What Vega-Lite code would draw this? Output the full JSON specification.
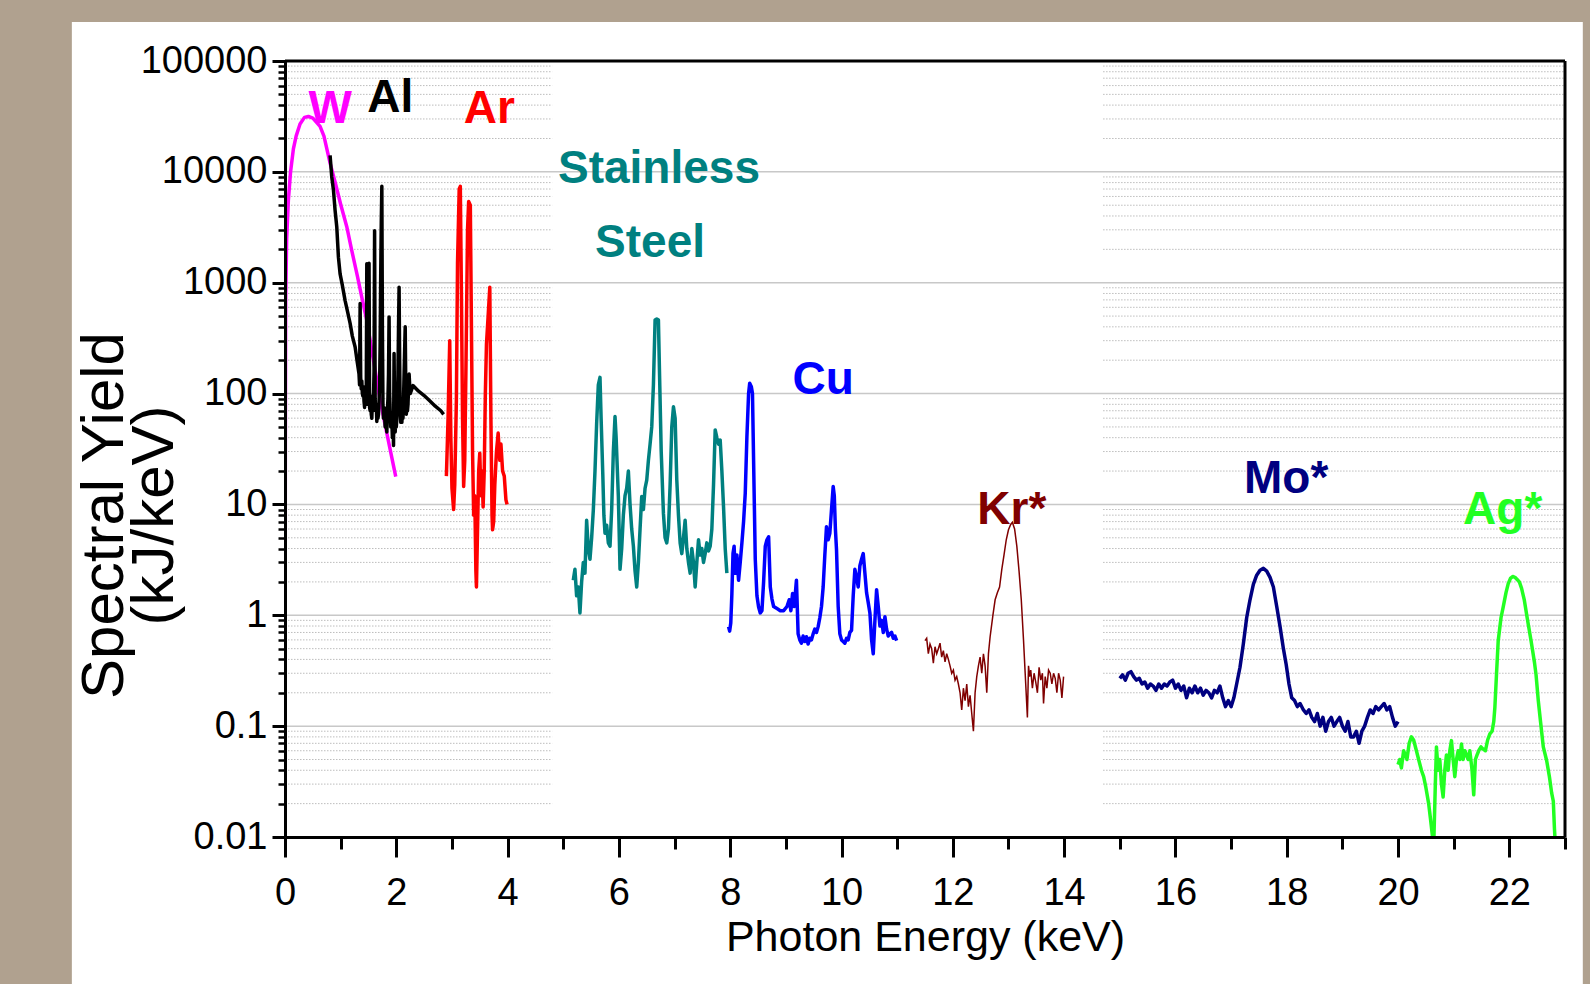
{
"$schema": "https://vega.github.io/schema/vega-lite/v6.json",
"width": 1280, "height": 776,
"autosize": "none",
"padding": {"left": 285, "top": 61, "right": 25, "bottom": 147},
"background": "#b0a18f",
"config": {"view": {"stroke": null}, "font": "Liberation Sans, Arial, sans-serif"},
"resolve": {"axis": {"x": "independent", "y": "independent"}},
"datasets": {
"spec": [
{"e":0,"y":0.011,"s":"W"},{"e":0.003,"y":0.5,"s":"W"},{"e":0.006,"y":30,"s":"W"},{"e":0.012,"y":700,"s":"W"},{"e":0.03,"y":2500,"s":"W"},{"e":0.06,"y":5500,"s":"W"},{"e":0.1,"y":10000,"s":"W"},{"e":0.15,"y":16000,"s":"W"},{"e":0.2,"y":21000,"s":"W"},{"e":0.27,"y":27000,"s":"W"},{"e":0.35,"y":31000,"s":"W"},{"e":0.42,"y":31600,"s":"W"},{"e":0.5,"y":30500,"s":"W"},{"e":0.63,"y":25700,"s":"W"},{"e":0.7,"y":21000,"s":"W"},{"e":0.81,"y":12000,"s":"W"},{"e":0.9,"y":8100,"s":"W"},{"e":1.0,"y":5100,"s":"W"},{"e":1.11,"y":3200,"s":"W"},{"e":1.2,"y":1950,"s":"W"},{"e":1.3,"y":1150,"s":"W"},{"e":1.4,"y":660,"s":"W"},{"e":1.47,"y":457,"s":"W"},{"e":1.55,"y":263,"s":"W"},{"e":1.63,"y":151,"s":"W"},{"e":1.71,"y":87,"s":"W"},{"e":1.8,"y":52,"s":"W"},{"e":1.9,"y":29.5,"s":"W"},{"e":1.99,"y":17.8,"s":"W"},
{"e":0.81,"y":14100,"s":"Al"},{"e":0.84,"y":9000,"s":"Al"},{"e":0.87,"y":6900,"s":"Al"},{"e":0.9,"y":4500,"s":"Al"},{"e":0.93,"y":3200,"s":"Al"},{"e":0.96,"y":1700,"s":"Al"},{"e":0.99,"y":1200,"s":"Al"},{"e":1.03,"y":950,"s":"Al"},{"e":1.08,"y":690,"s":"Al"},{"e":1.12,"y":560,"s":"Al"},{"e":1.17,"y":430,"s":"Al"},{"e":1.21,"y":330,"s":"Al"},{"e":1.26,"y":263,"s":"Al"},{"e":1.3,"y":190,"s":"Al"},
{"e":1.33,"y":150,"s":"Al"},{"e":1.34,"y":120,"s":"Al"},{"e":1.35,"y":650,"s":"Al"},{"e":1.36,"y":140,"s":"Al"},{"e":1.37,"y":110,"s":"Al"},{"e":1.38,"y":130,"s":"Al"},{"e":1.39,"y":100,"s":"Al"},{"e":1.4,"y":95,"s":"Al"},{"e":1.41,"y":115,"s":"Al"},{"e":1.42,"y":85,"s":"Al"},{"e":1.43,"y":75,"s":"Al"},{"e":1.44,"y":100,"s":"Al"},{"e":1.45,"y":80,"s":"Al"},{"e":1.46,"y":90,"s":"Al"},{"e":1.47,"y":1480,"s":"Al"},{"e":1.48,"y":85,"s":"Al"},{"e":1.49,"y":80,"s":"Al"},{"e":1.5,"y":110,"s":"Al"},{"e":1.51,"y":1500,"s":"Al"},{"e":1.52,"y":75,"s":"Al"},{"e":1.53,"y":70,"s":"Al"},{"e":1.54,"y":95,"s":"Al"},{"e":1.55,"y":65,"s":"Al"},{"e":1.56,"y":60,"s":"Al"},{"e":1.57,"y":85,"s":"Al"},{"e":1.58,"y":70,"s":"Al"},{"e":1.59,"y":90,"s":"Al"},{"e":1.6,"y":160,"s":"Al"},{"e":1.61,"y":2950,"s":"Al"},{"e":1.62,"y":90,"s":"Al"},{"e":1.63,"y":70,"s":"Al"},{"e":1.64,"y":80,"s":"Al"},{"e":1.65,"y":56,"s":"Al"},{"e":1.66,"y":75,"s":"Al"},{"e":1.67,"y":60,"s":"Al"},{"e":1.68,"y":65,"s":"Al"},{"e":1.69,"y":85,"s":"Al"},{"e":1.7,"y":120,"s":"Al"},{"e":1.71,"y":300,"s":"Al"},{"e":1.72,"y":1200,"s":"Al"},{"e":1.73,"y":3500,"s":"Al"},{"e":1.74,"y":7400,"s":"Al"},{"e":1.75,"y":400,"s":"Al"},{"e":1.76,"y":80,"s":"Al"},{"e":1.77,"y":60,"s":"Al"},{"e":1.78,"y":75,"s":"Al"},{"e":1.79,"y":65,"s":"Al"},{"e":1.8,"y":50,"s":"Al"},{"e":1.81,"y":70,"s":"Al"},{"e":1.82,"y":60,"s":"Al"},{"e":1.83,"y":45,"s":"Al"},{"e":1.84,"y":70,"s":"Al"},{"e":1.85,"y":90,"s":"Al"},{"e":1.86,"y":150,"s":"Al"},{"e":1.87,"y":490,"s":"Al"},{"e":1.88,"y":100,"s":"Al"},{"e":1.89,"y":70,"s":"Al"},{"e":1.9,"y":50,"s":"Al"},{"e":1.91,"y":65,"s":"Al"},{"e":1.92,"y":55,"s":"Al"},{"e":1.93,"y":40,"s":"Al"},{"e":1.94,"y":60,"s":"Al"},{"e":1.95,"y":34,"s":"Al"},{"e":1.96,"y":230,"s":"Al"},{"e":1.97,"y":60,"s":"Al"},{"e":1.98,"y":45,"s":"Al"},{"e":1.99,"y":70,"s":"Al"},{"e":2.0,"y":50,"s":"Al"},{"e":2.01,"y":60,"s":"Al"},{"e":2.02,"y":80,"s":"Al"},{"e":2.03,"y":150,"s":"Al"},{"e":2.04,"y":400,"s":"Al"},{"e":2.05,"y":910,"s":"Al"},{"e":2.06,"y":200,"s":"Al"},{"e":2.07,"y":70,"s":"Al"},{"e":2.08,"y":55,"s":"Al"},{"e":2.09,"y":80,"s":"Al"},{"e":2.1,"y":55,"s":"Al"},{"e":2.11,"y":70,"s":"Al"},{"e":2.12,"y":60,"s":"Al"},{"e":2.13,"y":90,"s":"Al"},{"e":2.14,"y":150,"s":"Al"},{"e":2.15,"y":250,"s":"Al"},{"e":2.16,"y":400,"s":"Al"},{"e":2.17,"y":120,"s":"Al"},{"e":2.18,"y":65,"s":"Al"},{"e":2.19,"y":90,"s":"Al"},{"e":2.2,"y":70,"s":"Al"},{"e":2.21,"y":80,"s":"Al"},{"e":2.22,"y":110,"s":"Al"},{"e":2.23,"y":150,"s":"Al"},{"e":2.24,"y":120,"s":"Al"},{"e":2.25,"y":100,"s":"Al"},{"e":2.3,"y":118,"s":"Al"},{"e":2.4,"y":105,"s":"Al"},{"e":2.5,"y":96,"s":"Al"},{"e":2.6,"y":86,"s":"Al"},{"e":2.7,"y":77,"s":"Al"},{"e":2.8,"y":70,"s":"Al"},{"e":2.85,"y":65,"s":"Al"},
{"e":2.9,"y":18,"s":"Ar"},{"e":2.93,"y":60,"s":"Ar"},{"e":2.96,"y":300,"s":"Ar"},{"e":2.98,"y":40,"s":"Ar"},{"e":3.0,"y":14,"s":"Ar"},{"e":3.03,"y":9,"s":"Ar"},{"e":3.05,"y":15,"s":"Ar"},{"e":3.08,"y":90,"s":"Ar"},{"e":3.1,"y":1500,"s":"Ar"},{"e":3.13,"y":7000,"s":"Ar"},{"e":3.15,"y":7400,"s":"Ar"},{"e":3.17,"y":800,"s":"Ar"},{"e":3.19,"y":60,"s":"Ar"},{"e":3.21,"y":14.5,"s":"Ar"},{"e":3.23,"y":25,"s":"Ar"},{"e":3.25,"y":150,"s":"Ar"},{"e":3.28,"y":3000,"s":"Ar"},{"e":3.3,"y":5400,"s":"Ar"},{"e":3.33,"y":5000,"s":"Ar"},{"e":3.35,"y":400,"s":"Ar"},{"e":3.37,"y":30,"s":"Ar"},{"e":3.39,"y":8,"s":"Ar"},{"e":3.41,"y":12,"s":"Ar"},{"e":3.43,"y":2.5,"s":"Ar"},{"e":3.44,"y":1.8,"s":"Ar"},{"e":3.46,"y":6,"s":"Ar"},{"e":3.48,"y":20,"s":"Ar"},{"e":3.5,"y":29,"s":"Ar"},{"e":3.52,"y":12,"s":"Ar"},{"e":3.54,"y":20,"s":"Ar"},{"e":3.56,"y":9.5,"s":"Ar"},{"e":3.58,"y":20,"s":"Ar"},{"e":3.6,"y":100,"s":"Ar"},{"e":3.62,"y":280,"s":"Ar"},{"e":3.65,"y":500,"s":"Ar"},{"e":3.68,"y":910,"s":"Ar"},{"e":3.7,"y":60,"s":"Ar"},{"e":3.72,"y":8,"s":"Ar"},{"e":3.73,"y":5.9,"s":"Ar"},{"e":3.75,"y":7,"s":"Ar"},{"e":3.77,"y":15,"s":"Ar"},{"e":3.8,"y":30,"s":"Ar"},{"e":3.83,"y":44,"s":"Ar"},{"e":3.86,"y":25,"s":"Ar"},{"e":3.88,"y":35,"s":"Ar"},{"e":3.91,"y":20,"s":"Ar"},{"e":3.94,"y":18,"s":"Ar"},{"e":3.97,"y":11,"s":"Ar"},{"e":3.99,"y":10,"s":"Ar"},
{"e":5.18,"y":2.07,"s":"SS"},{"e":5.21,"y":2.6,"s":"SS"},{"e":5.24,"y":1.5,"s":"SS"},{"e":5.27,"y":1.8,"s":"SS"},{"e":5.3,"y":1.05,"s":"SS"},{"e":5.33,"y":2.0,"s":"SS"},{"e":5.36,"y":3.0,"s":"SS"},{"e":5.39,"y":2.4,"s":"SS"},{"e":5.42,"y":7.2,"s":"SS"},{"e":5.45,"y":4.0,"s":"SS"},{"e":5.48,"y":3.2,"s":"SS"},{"e":5.51,"y":5.0,"s":"SS"},{"e":5.54,"y":8.9,"s":"SS"},{"e":5.57,"y":20,"s":"SS"},{"e":5.6,"y":54,"s":"SS"},{"e":5.63,"y":120,"s":"SS"},{"e":5.66,"y":140,"s":"SS"},{"e":5.68,"y":60,"s":"SS"},{"e":5.71,"y":19,"s":"SS"},{"e":5.73,"y":8,"s":"SS"},{"e":5.75,"y":5.5,"s":"SS"},{"e":5.78,"y":6.5,"s":"SS"},{"e":5.81,"y":4.5,"s":"SS"},{"e":5.84,"y":4.2,"s":"SS"},{"e":5.87,"y":9,"s":"SS"},{"e":5.9,"y":30,"s":"SS"},{"e":5.93,"y":62,"s":"SS"},{"e":5.95,"y":40,"s":"SS"},{"e":5.99,"y":11.8,"s":"SS"},{"e":6.02,"y":2.6,"s":"SS"},{"e":6.05,"y":4,"s":"SS"},{"e":6.08,"y":8,"s":"SS"},{"e":6.11,"y":12,"s":"SS"},{"e":6.14,"y":14,"s":"SS"},{"e":6.17,"y":20,"s":"SS"},{"e":6.2,"y":10,"s":"SS"},{"e":6.23,"y":6,"s":"SS"},{"e":6.26,"y":4.2,"s":"SS"},{"e":6.29,"y":2.5,"s":"SS"},{"e":6.32,"y":1.8,"s":"SS"},{"e":6.35,"y":3,"s":"SS"},{"e":6.38,"y":6,"s":"SS"},{"e":6.41,"y":11.8,"s":"SS"},{"e":6.44,"y":9,"s":"SS"},{"e":6.47,"y":14,"s":"SS"},{"e":6.5,"y":16.6,"s":"SS"},{"e":6.53,"y":25,"s":"SS"},{"e":6.56,"y":35,"s":"SS"},{"e":6.59,"y":50,"s":"SS"},{"e":6.62,"y":120,"s":"SS"},{"e":6.65,"y":460,"s":"SS"},{"e":6.68,"y":470,"s":"SS"},{"e":6.71,"y":460,"s":"SS"},{"e":6.73,"y":150,"s":"SS"},{"e":6.76,"y":30,"s":"SS"},{"e":6.8,"y":8.3,"s":"SS"},{"e":6.83,"y":5,"s":"SS"},{"e":6.86,"y":4.5,"s":"SS"},{"e":6.89,"y":6,"s":"SS"},{"e":6.92,"y":15,"s":"SS"},{"e":6.95,"y":50,"s":"SS"},{"e":6.98,"y":76,"s":"SS"},{"e":7.01,"y":60,"s":"SS"},{"e":7.04,"y":16.6,"s":"SS"},{"e":7.07,"y":8,"s":"SS"},{"e":7.1,"y":4.5,"s":"SS"},{"e":7.13,"y":3.6,"s":"SS"},{"e":7.16,"y":5,"s":"SS"},{"e":7.19,"y":7.2,"s":"SS"},{"e":7.22,"y":4,"s":"SS"},{"e":7.25,"y":3,"s":"SS"},{"e":7.28,"y":2.4,"s":"SS"},{"e":7.31,"y":4,"s":"SS"},{"e":7.34,"y":3,"s":"SS"},{"e":7.37,"y":1.8,"s":"SS"},{"e":7.4,"y":3,"s":"SS"},{"e":7.43,"y":4.8,"s":"SS"},{"e":7.46,"y":3.5,"s":"SS"},{"e":7.49,"y":4,"s":"SS"},{"e":7.52,"y":3,"s":"SS"},{"e":7.55,"y":3.6,"s":"SS"},{"e":7.58,"y":4.5,"s":"SS"},{"e":7.61,"y":3.8,"s":"SS"},{"e":7.64,"y":4.2,"s":"SS"},{"e":7.67,"y":6,"s":"SS"},{"e":7.7,"y":15,"s":"SS"},{"e":7.73,"y":47,"s":"SS"},{"e":7.76,"y":40,"s":"SS"},{"e":7.79,"y":35,"s":"SS"},{"e":7.82,"y":38,"s":"SS"},{"e":7.85,"y":20,"s":"SS"},{"e":7.88,"y":9.5,"s":"SS"},{"e":7.91,"y":4,"s":"SS"},{"e":7.94,"y":2.4,"s":"SS"},
{"e":7.97,"y":0.79,"s":"Cu"},{"e":7.99,"y":0.72,"s":"Cu"},{"e":8.01,"y":0.85,"s":"Cu"},{"e":8.03,"y":1.57,"s":"Cu"},{"e":8.05,"y":3.6,"s":"Cu"},{"e":8.07,"y":4.2,"s":"Cu"},{"e":8.09,"y":2.4,"s":"Cu"},{"e":8.12,"y":3.5,"s":"Cu"},{"e":8.15,"y":2.07,"s":"Cu"},{"e":8.18,"y":3,"s":"Cu"},{"e":8.21,"y":4.5,"s":"Cu"},{"e":8.24,"y":7,"s":"Cu"},{"e":8.27,"y":12.6,"s":"Cu"},{"e":8.3,"y":41,"s":"Cu"},{"e":8.33,"y":100,"s":"Cu"},{"e":8.35,"y":124,"s":"Cu"},{"e":8.38,"y":115,"s":"Cu"},{"e":8.4,"y":100,"s":"Cu"},{"e":8.42,"y":25,"s":"Cu"},{"e":8.45,"y":3.2,"s":"Cu"},{"e":8.48,"y":1.5,"s":"Cu"},{"e":8.51,"y":1.19,"s":"Cu"},{"e":8.54,"y":1.05,"s":"Cu"},{"e":8.57,"y":1.1,"s":"Cu"},{"e":8.6,"y":2,"s":"Cu"},{"e":8.63,"y":4.2,"s":"Cu"},{"e":8.66,"y":4.8,"s":"Cu"},{"e":8.69,"y":5.1,"s":"Cu"},{"e":8.72,"y":1.8,"s":"Cu"},{"e":8.75,"y":1.4,"s":"Cu"},{"e":8.78,"y":1.2,"s":"Cu"},{"e":8.84,"y":1.15,"s":"Cu"},{"e":8.9,"y":1.1,"s":"Cu"},{"e":8.96,"y":1.1,"s":"Cu"},{"e":9.02,"y":1.2,"s":"Cu"},{"e":9.06,"y":1.38,"s":"Cu"},{"e":9.09,"y":1.1,"s":"Cu"},{"e":9.12,"y":1.57,"s":"Cu"},{"e":9.15,"y":1.2,"s":"Cu"},{"e":9.19,"y":2.07,"s":"Cu"},{"e":9.22,"y":0.68,"s":"Cu"},{"e":9.25,"y":0.6,"s":"Cu"},{"e":9.28,"y":0.56,"s":"Cu"},{"e":9.31,"y":0.65,"s":"Cu"},{"e":9.34,"y":0.58,"s":"Cu"},{"e":9.37,"y":0.64,"s":"Cu"},{"e":9.4,"y":0.55,"s":"Cu"},{"e":9.43,"y":0.62,"s":"Cu"},{"e":9.46,"y":0.6,"s":"Cu"},{"e":9.49,"y":0.68,"s":"Cu"},{"e":9.52,"y":0.75,"s":"Cu"},{"e":9.55,"y":0.7,"s":"Cu"},{"e":9.58,"y":0.79,"s":"Cu"},{"e":9.61,"y":0.95,"s":"Cu"},{"e":9.64,"y":1.2,"s":"Cu"},{"e":9.67,"y":1.8,"s":"Cu"},{"e":9.7,"y":3.5,"s":"Cu"},{"e":9.73,"y":6.3,"s":"Cu"},{"e":9.76,"y":4.8,"s":"Cu"},{"e":9.79,"y":5.5,"s":"Cu"},{"e":9.82,"y":9,"s":"Cu"},{"e":9.85,"y":14.5,"s":"Cu"},{"e":9.87,"y":12,"s":"Cu"},{"e":9.89,"y":6,"s":"Cu"},{"e":9.91,"y":3.9,"s":"Cu"},{"e":9.94,"y":1.2,"s":"Cu"},{"e":9.97,"y":0.68,"s":"Cu"},{"e":10.0,"y":0.6,"s":"Cu"},{"e":10.03,"y":0.58,"s":"Cu"},{"e":10.06,"y":0.56,"s":"Cu"},{"e":10.09,"y":0.62,"s":"Cu"},{"e":10.12,"y":0.6,"s":"Cu"},{"e":10.15,"y":0.7,"s":"Cu"},{"e":10.18,"y":0.73,"s":"Cu"},{"e":10.21,"y":1.5,"s":"Cu"},{"e":10.24,"y":2.6,"s":"Cu"},{"e":10.27,"y":2.2,"s":"Cu"},{"e":10.3,"y":1.8,"s":"Cu"},{"e":10.33,"y":2.8,"s":"Cu"},{"e":10.36,"y":3.2,"s":"Cu"},{"e":10.39,"y":3.6,"s":"Cu"},{"e":10.42,"y":2.4,"s":"Cu"},{"e":10.45,"y":1.6,"s":"Cu"},{"e":10.48,"y":1.3,"s":"Cu"},{"e":10.51,"y":1.05,"s":"Cu"},{"e":10.54,"y":0.6,"s":"Cu"},{"e":10.57,"y":0.45,"s":"Cu"},{"e":10.6,"y":0.9,"s":"Cu"},{"e":10.63,"y":1.7,"s":"Cu"},{"e":10.66,"y":1.2,"s":"Cu"},{"e":10.69,"y":0.8,"s":"Cu"},{"e":10.72,"y":0.9,"s":"Cu"},{"e":10.75,"y":0.7,"s":"Cu"},{"e":10.78,"y":0.97,"s":"Cu"},{"e":10.81,"y":0.75,"s":"Cu"},{"e":10.84,"y":0.65,"s":"Cu"},{"e":10.87,"y":0.68,"s":"Cu"},{"e":10.9,"y":0.7,"s":"Cu"},{"e":10.93,"y":0.62,"s":"Cu"},{"e":10.96,"y":0.65,"s":"Cu"},{"e":10.99,"y":0.59,"s":"Cu"},
{"e":11.5,"y":0.59,"s":"Kr"},{"e":11.53,"y":0.62,"s":"Kr"},{"e":11.56,"y":0.45,"s":"Kr"},{"e":11.59,"y":0.55,"s":"Kr"},{"e":11.62,"y":0.5,"s":"Kr"},{"e":11.65,"y":0.37,"s":"Kr"},{"e":11.68,"y":0.52,"s":"Kr"},{"e":11.71,"y":0.45,"s":"Kr"},{"e":11.74,"y":0.5,"s":"Kr"},{"e":11.77,"y":0.56,"s":"Kr"},{"e":11.8,"y":0.42,"s":"Kr"},{"e":11.83,"y":0.48,"s":"Kr"},{"e":11.86,"y":0.38,"s":"Kr"},{"e":11.89,"y":0.45,"s":"Kr"},{"e":11.92,"y":0.4,"s":"Kr"},{"e":11.95,"y":0.35,"s":"Kr"},{"e":11.98,"y":0.3,"s":"Kr"},{"e":12.01,"y":0.32,"s":"Kr"},{"e":12.04,"y":0.26,"s":"Kr"},{"e":12.07,"y":0.28,"s":"Kr"},{"e":12.1,"y":0.24,"s":"Kr"},{"e":12.13,"y":0.2,"s":"Kr"},{"e":12.16,"y":0.14,"s":"Kr"},{"e":12.19,"y":0.22,"s":"Kr"},{"e":12.22,"y":0.17,"s":"Kr"},{"e":12.25,"y":0.24,"s":"Kr"},{"e":12.28,"y":0.15,"s":"Kr"},{"e":12.31,"y":0.19,"s":"Kr"},{"e":12.34,"y":0.13,"s":"Kr"},{"e":12.37,"y":0.09,"s":"Kr"},{"e":12.4,"y":0.2,"s":"Kr"},{"e":12.43,"y":0.28,"s":"Kr"},{"e":12.46,"y":0.35,"s":"Kr"},{"e":12.49,"y":0.42,"s":"Kr"},{"e":12.52,"y":0.3,"s":"Kr"},{"e":12.55,"y":0.45,"s":"Kr"},{"e":12.58,"y":0.35,"s":"Kr"},{"e":12.61,"y":0.2,"s":"Kr"},{"e":12.64,"y":0.45,"s":"Kr"},{"e":12.67,"y":0.64,"s":"Kr"},{"e":12.72,"y":1.0,"s":"Kr"},{"e":12.76,"y":1.38,"s":"Kr"},{"e":12.8,"y":1.6,"s":"Kr"},{"e":12.84,"y":1.8,"s":"Kr"},{"e":12.88,"y":2.6,"s":"Kr"},{"e":12.92,"y":3.5,"s":"Kr"},{"e":12.96,"y":4.8,"s":"Kr"},{"e":13.0,"y":5.9,"s":"Kr"},{"e":13.04,"y":6.6,"s":"Kr"},{"e":13.07,"y":6.9,"s":"Kr"},{"e":13.11,"y":6.0,"s":"Kr"},{"e":13.15,"y":4.2,"s":"Kr"},{"e":13.19,"y":2.5,"s":"Kr"},{"e":13.23,"y":1.38,"s":"Kr"},{"e":13.27,"y":0.6,"s":"Kr"},{"e":13.3,"y":0.3,"s":"Kr"},{"e":13.34,"y":0.12,"s":"Kr"},{"e":13.36,"y":0.35,"s":"Kr"},{"e":13.38,"y":0.28,"s":"Kr"},{"e":13.4,"y":0.32,"s":"Kr"},{"e":13.43,"y":0.22,"s":"Kr"},{"e":13.46,"y":0.3,"s":"Kr"},{"e":13.49,"y":0.25,"s":"Kr"},{"e":13.52,"y":0.2,"s":"Kr"},{"e":13.55,"y":0.34,"s":"Kr"},{"e":13.58,"y":0.26,"s":"Kr"},{"e":13.61,"y":0.3,"s":"Kr"},{"e":13.63,"y":0.16,"s":"Kr"},{"e":13.66,"y":0.28,"s":"Kr"},{"e":13.69,"y":0.22,"s":"Kr"},{"e":13.72,"y":0.32,"s":"Kr"},{"e":13.75,"y":0.3,"s":"Kr"},{"e":13.78,"y":0.24,"s":"Kr"},{"e":13.81,"y":0.3,"s":"Kr"},{"e":13.84,"y":0.27,"s":"Kr"},{"e":13.87,"y":0.2,"s":"Kr"},{"e":13.9,"y":0.3,"s":"Kr"},{"e":13.93,"y":0.26,"s":"Kr"},{"e":13.96,"y":0.18,"s":"Kr"},{"e":13.99,"y":0.28,"s":"Kr"},
{"e":15.0,"y":0.27,"s":"Mo"},{"e":15.05,"y":0.29,"s":"Mo"},{"e":15.1,"y":0.26,"s":"Mo"},{"e":15.15,"y":0.3,"s":"Mo"},{"e":15.2,"y":0.31,"s":"Mo"},{"e":15.25,"y":0.28,"s":"Mo"},{"e":15.3,"y":0.26,"s":"Mo"},{"e":15.35,"y":0.27,"s":"Mo"},{"e":15.4,"y":0.24,"s":"Mo"},{"e":15.45,"y":0.25,"s":"Mo"},{"e":15.5,"y":0.22,"s":"Mo"},{"e":15.55,"y":0.24,"s":"Mo"},{"e":15.6,"y":0.23,"s":"Mo"},{"e":15.65,"y":0.21,"s":"Mo"},{"e":15.7,"y":0.24,"s":"Mo"},{"e":15.75,"y":0.22,"s":"Mo"},{"e":15.8,"y":0.24,"s":"Mo"},{"e":15.85,"y":0.23,"s":"Mo"},{"e":15.9,"y":0.25,"s":"Mo"},{"e":15.95,"y":0.26,"s":"Mo"},{"e":16.0,"y":0.22,"s":"Mo"},{"e":16.05,"y":0.24,"s":"Mo"},{"e":16.1,"y":0.21,"s":"Mo"},{"e":16.15,"y":0.23,"s":"Mo"},{"e":16.2,"y":0.18,"s":"Mo"},{"e":16.25,"y":0.22,"s":"Mo"},{"e":16.3,"y":0.2,"s":"Mo"},{"e":16.35,"y":0.23,"s":"Mo"},{"e":16.4,"y":0.2,"s":"Mo"},{"e":16.45,"y":0.22,"s":"Mo"},{"e":16.5,"y":0.19,"s":"Mo"},{"e":16.55,"y":0.21,"s":"Mo"},{"e":16.6,"y":0.2,"s":"Mo"},{"e":16.65,"y":0.18,"s":"Mo"},{"e":16.7,"y":0.21,"s":"Mo"},{"e":16.75,"y":0.2,"s":"Mo"},{"e":16.8,"y":0.23,"s":"Mo"},{"e":16.85,"y":0.18,"s":"Mo"},{"e":16.9,"y":0.15,"s":"Mo"},{"e":16.95,"y":0.17,"s":"Mo"},{"e":17.0,"y":0.15,"s":"Mo"},{"e":17.05,"y":0.18,"s":"Mo"},{"e":17.1,"y":0.24,"s":"Mo"},{"e":17.16,"y":0.34,"s":"Mo"},{"e":17.22,"y":0.55,"s":"Mo"},{"e":17.28,"y":0.95,"s":"Mo"},{"e":17.34,"y":1.38,"s":"Mo"},{"e":17.4,"y":1.9,"s":"Mo"},{"e":17.46,"y":2.3,"s":"Mo"},{"e":17.52,"y":2.55,"s":"Mo"},{"e":17.58,"y":2.65,"s":"Mo"},{"e":17.64,"y":2.5,"s":"Mo"},{"e":17.7,"y":2.2,"s":"Mo"},{"e":17.76,"y":1.8,"s":"Mo"},{"e":17.82,"y":1.2,"s":"Mo"},{"e":17.88,"y":0.79,"s":"Mo"},{"e":17.94,"y":0.5,"s":"Mo"},{"e":17.99,"y":0.36,"s":"Mo"},{"e":18.04,"y":0.24,"s":"Mo"},{"e":18.09,"y":0.18,"s":"Mo"},{"e":18.14,"y":0.17,"s":"Mo"},{"e":18.19,"y":0.15,"s":"Mo"},{"e":18.24,"y":0.16,"s":"Mo"},{"e":18.3,"y":0.14,"s":"Mo"},{"e":18.35,"y":0.13,"s":"Mo"},{"e":18.4,"y":0.14,"s":"Mo"},{"e":18.45,"y":0.12,"s":"Mo"},{"e":18.5,"y":0.11,"s":"Mo"},{"e":18.55,"y":0.13,"s":"Mo"},{"e":18.6,"y":0.1,"s":"Mo"},{"e":18.65,"y":0.12,"s":"Mo"},{"e":18.7,"y":0.09,"s":"Mo"},{"e":18.75,"y":0.11,"s":"Mo"},{"e":18.8,"y":0.12,"s":"Mo"},{"e":18.85,"y":0.1,"s":"Mo"},{"e":18.9,"y":0.11,"s":"Mo"},{"e":18.95,"y":0.12,"s":"Mo"},{"e":19.0,"y":0.1,"s":"Mo"},{"e":19.05,"y":0.09,"s":"Mo"},{"e":19.1,"y":0.11,"s":"Mo"},{"e":19.15,"y":0.08,"s":"Mo"},{"e":19.2,"y":0.08,"s":"Mo"},{"e":19.25,"y":0.09,"s":"Mo"},{"e":19.3,"y":0.07,"s":"Mo"},{"e":19.35,"y":0.09,"s":"Mo"},{"e":19.4,"y":0.1,"s":"Mo"},{"e":19.45,"y":0.12,"s":"Mo"},{"e":19.5,"y":0.14,"s":"Mo"},{"e":19.55,"y":0.13,"s":"Mo"},{"e":19.6,"y":0.15,"s":"Mo"},{"e":19.65,"y":0.14,"s":"Mo"},{"e":19.7,"y":0.15,"s":"Mo"},{"e":19.75,"y":0.16,"s":"Mo"},{"e":19.8,"y":0.14,"s":"Mo"},{"e":19.85,"y":0.15,"s":"Mo"},{"e":19.9,"y":0.12,"s":"Mo"},{"e":19.95,"y":0.1,"s":"Mo"},{"e":20.0,"y":0.11,"s":"Mo"},
{"e":20.0,"y":0.045,"s":"Ag"},{"e":20.03,"y":0.05,"s":"Ag"},{"e":20.06,"y":0.042,"s":"Ag"},{"e":20.1,"y":0.06,"s":"Ag"},{"e":20.13,"y":0.055,"s":"Ag"},{"e":20.16,"y":0.05,"s":"Ag"},{"e":20.2,"y":0.07,"s":"Ag"},{"e":20.24,"y":0.08,"s":"Ag"},{"e":20.28,"y":0.075,"s":"Ag"},{"e":20.33,"y":0.06,"s":"Ag"},{"e":20.37,"y":0.05,"s":"Ag"},{"e":20.42,"y":0.04,"s":"Ag"},{"e":20.46,"y":0.035,"s":"Ag"},{"e":20.5,"y":0.028,"s":"Ag"},{"e":20.55,"y":0.02,"s":"Ag"},{"e":20.58,"y":0.015,"s":"Ag"},{"e":20.62,"y":0.01,"s":"Ag"},{"e":20.64,"y":0.008,"s":"Ag"},{"e":20.67,"y":0.03,"s":"Ag"},{"e":20.69,"y":0.065,"s":"Ag"},{"e":20.72,"y":0.04,"s":"Ag"},{"e":20.75,"y":0.05,"s":"Ag"},{"e":20.78,"y":0.03,"s":"Ag"},{"e":20.81,"y":0.023,"s":"Ag"},{"e":20.84,"y":0.04,"s":"Ag"},{"e":20.87,"y":0.055,"s":"Ag"},{"e":20.9,"y":0.04,"s":"Ag"},{"e":20.93,"y":0.06,"s":"Ag"},{"e":20.96,"y":0.074,"s":"Ag"},{"e":20.99,"y":0.05,"s":"Ag"},{"e":21.02,"y":0.035,"s":"Ag"},{"e":21.05,"y":0.05,"s":"Ag"},{"e":21.08,"y":0.06,"s":"Ag"},{"e":21.11,"y":0.05,"s":"Ag"},{"e":21.14,"y":0.069,"s":"Ag"},{"e":21.17,"y":0.05,"s":"Ag"},{"e":21.2,"y":0.06,"s":"Ag"},{"e":21.23,"y":0.055,"s":"Ag"},{"e":21.26,"y":0.05,"s":"Ag"},{"e":21.29,"y":0.06,"s":"Ag"},{"e":21.33,"y":0.04,"s":"Ag"},{"e":21.36,"y":0.024,"s":"Ag"},{"e":21.39,"y":0.05,"s":"Ag"},{"e":21.42,"y":0.055,"s":"Ag"},{"e":21.45,"y":0.06,"s":"Ag"},{"e":21.49,"y":0.065,"s":"Ag"},{"e":21.53,"y":0.062,"s":"Ag"},{"e":21.57,"y":0.06,"s":"Ag"},{"e":21.61,"y":0.075,"s":"Ag"},{"e":21.65,"y":0.085,"s":"Ag"},{"e":21.69,"y":0.09,"s":"Ag"},{"e":21.72,"y":0.11,"s":"Ag"},{"e":21.74,"y":0.148,"s":"Ag"},{"e":21.77,"y":0.3,"s":"Ag"},{"e":21.8,"y":0.59,"s":"Ag"},{"e":21.85,"y":0.95,"s":"Ag"},{"e":21.89,"y":1.19,"s":"Ag"},{"e":21.94,"y":1.6,"s":"Ag"},{"e":21.98,"y":1.93,"s":"Ag"},{"e":22.02,"y":2.15,"s":"Ag"},{"e":22.06,"y":2.24,"s":"Ag"},{"e":22.1,"y":2.2,"s":"Ag"},{"e":22.14,"y":2.1,"s":"Ag"},{"e":22.18,"y":2.0,"s":"Ag"},{"e":22.22,"y":1.75,"s":"Ag"},{"e":22.27,"y":1.36,"s":"Ag"},{"e":22.32,"y":0.95,"s":"Ag"},{"e":22.39,"y":0.59,"s":"Ag"},{"e":22.45,"y":0.38,"s":"Ag"},{"e":22.48,"y":0.29,"s":"Ag"},{"e":22.52,"y":0.17,"s":"Ag"},{"e":22.56,"y":0.11,"s":"Ag"},{"e":22.61,"y":0.065,"s":"Ag"},{"e":22.67,"y":0.049,"s":"Ag"},{"e":22.72,"y":0.035,"s":"Ag"},{"e":22.76,"y":0.025,"s":"Ag"},{"e":22.79,"y":0.021,"s":"Ag"},{"e":22.81,"y":0.012,"s":"Ag"},{"e":22.83,"y":0.008,"s":"Ag"}
],
"labels": [
{"t":"W","e":0.81,"y":27500,"s":"W"},{"t":"Al","e":1.89,"y":34500,"s":"Al"},{"t":"Ar","e":3.67,"y":27500,"s":"Ar"},{"t":"Stainless","e":6.72,"y":7870,"s":"SS"},{"t":"Steel","e":6.56,"y":1710,"s":"SS"},{"t":"Cu","e":9.67,"y":100,"s":"Cu"},{"t":"Kr*","e":13.06,"y":6.7,"s":"Kr"},{"t":"Mo*","e":17.99,"y":12.7,"s":"Mo"},{"t":"Ag*","e":21.88,"y":6.6,"s":"Ag"}
],
"major": [{"y":0.1},{"y":1},{"y":10},{"y":100},{"y":1000},{"y":10000}],
"minor": [
{"y":0.02},{"y":0.03},{"y":0.04},{"y":0.05},{"y":0.06},{"y":0.07},{"y":0.08},{"y":0.09},
{"y":0.2},{"y":0.3},{"y":0.4},{"y":0.5},{"y":0.6},{"y":0.7},{"y":0.8},{"y":0.9},
{"y":2},{"y":3},{"y":4},{"y":5},{"y":6},{"y":7},{"y":8},{"y":9},
{"y":20},{"y":30},{"y":40},{"y":50},{"y":60},{"y":70},{"y":80},{"y":90},
{"y":200},{"y":300},{"y":400},{"y":500},{"y":600},{"y":700},{"y":800},{"y":900},
{"y":2000},{"y":3000},{"y":4000},{"y":5000},{"y":6000},{"y":7000},{"y":8000},{"y":9000},
{"y":20000},{"y":30000},{"y":40000},{"y":50000},{"y":60000},{"y":70000},{"y":80000},{"y":90000}
]
},
"layer": [
{"data": {"values": [{}]},
 "mark": {"type": "rect", "fill": "white", "clip": false},
 "encoding": {
  "x": {"datum": -3.83, "type": "quantitative", "scale": {"domain": [0, 23], "nice": false, "zero": false}, "axis": null},
  "x2": {"datum": 23.32},
  "y": {"datum": 224900, "type": "quantitative", "scale": {"type": "log", "domain": [0.01, 100000], "nice": false}, "axis": null},
  "y2": {"datum": 0.0001}
 }},
{"data": {"name": "minor"},
 "mark": {"type": "rule", "color": "#bdbdbd", "strokeWidth": 1, "strokeDash": [1.5, 1.5]},
 "encoding": {
  "x": {"datum": 0, "type": "quantitative", "scale": {"domain": [0, 23], "nice": false, "zero": false}, "axis": null},
  "x2": {"datum": 4.8},
  "y": {"field": "y", "type": "quantitative", "scale": {"type": "log", "domain": [0.01, 100000], "nice": false}, "axis": null}
 }},
{"data": {"name": "minor"},
 "mark": {"type": "rule", "color": "#bdbdbd", "strokeWidth": 1, "strokeDash": [1.5, 1.5]},
 "encoding": {
  "x": {"datum": 14.7, "type": "quantitative", "scale": {"domain": [0, 23], "nice": false, "zero": false}, "axis": null},
  "x2": {"datum": 23},
  "y": {"field": "y", "type": "quantitative", "scale": {"type": "log", "domain": [0.01, 100000], "nice": false}, "axis": null}
 }},
{"data": {"name": "major"},
 "mark": {"type": "rule", "color": "#c8c8c8", "strokeWidth": 1.5},
 "encoding": {
  "x": {"datum": 0, "type": "quantitative", "scale": {"domain": [0, 23], "nice": false, "zero": false}, "axis": null},
  "x2": {"datum": 23},
  "y": {"field": "y", "type": "quantitative", "scale": {"type": "log", "domain": [0.01, 100000], "nice": false}, "axis": null}
 }},
{"data": {"name": "spec"},
 "transform": [{"filter": "datum.s != 'Kr'"}],
 "mark": {"type": "line", "strokeWidth": 3.5, "clip": true, "strokeJoin": "round"},
 "encoding": {
  "x": {"field": "e", "type": "quantitative", "scale": {"domain": [0, 23], "nice": false, "zero": false},
   "axis": {"orient": "bottom", "title": "Photon Energy (keV)", "values": [0,2,4,6,8,10,12,14,16,18,20,22],
    "format": "d", "grid": false, "zindex": 1, "domainColor": "black", "domainWidth": 3,
    "tickColor": "black", "tickWidth": 3, "tickSize": 20,
    "labelFont": "Liberation Sans", "labelFontSize": 38, "labelColor": "black", "labelPadding": 17, "labelFlush": false, "labelOverlap": false,
    "titleFont": "Liberation Sans", "titleFontSize": 43, "titleFontWeight": "normal", "titleColor": "black",
    "titleX": 640, "titleY": 113, "titleBaseline": "alphabetic", "titleAlign": "center", "titleAnchor": "start"}},
  "y": {"field": "y", "type": "quantitative", "scale": {"type": "log", "domain": [0.01, 100000], "nice": false},
   "axis": {"orient": "left", "title": ["Spectral Yield", "(kJ/keV)"],
    "values": [0.01,0.1,1,10,100,1000,10000,100000],
    "labelExpr": "format(datum.value, '~g')",
    "grid": false, "zindex": 1, "domainColor": "black", "domainWidth": 3,
    "tickColor": "black", "tickWidth": 3, "tickSize": 13,
    "labelFont": "Liberation Sans", "labelFontSize": 38, "labelColor": "black", "labelPadding": 5, "labelFlush": false, "labelOverlap": false, "labelBaseline": "middle",
    "titleFont": "Liberation Sans", "titleFontSize": 60, "titleFontWeight": "normal", "titleColor": "black", "titleLineHeight": 50,
    "titleX": -163, "titleY": 454, "titleAngle": -90, "titleBaseline": "alphabetic", "titleAlign": "center", "titleAnchor": "start"}},
  "color": {"field": "s", "type": "nominal", "legend": null,
   "scale": {"domain": ["Al","W","Ar","SS","Cu","Kr","Mo","Ag"], "range": ["#000000","#ff00ff","#ff0000","#008080","#0000ff","#800000","#000080","#22ff22"]}}
 }},
{"data": {"name": "spec"},
 "transform": [{"filter": "datum.s == 'Kr'"}],
 "mark": {"type": "line", "strokeWidth": 1.5, "clip": true},
 "encoding": {
  "x": {"field": "e", "type": "quantitative", "scale": {"domain": [0, 23], "nice": false, "zero": false},
   "axis": {"orient": "bottom", "title": null, "values": [1,3,5,7,9,11,13,15,17,19,21,23], "labels": false, "domain": false, "grid": false, "zindex": 1,
    "tickColor": "black", "tickWidth": 3, "tickSize": 12}},
  "y": {"field": "y", "type": "quantitative", "scale": {"type": "log", "domain": [0.01, 100000], "nice": false},
   "axis": {"orient": "left", "title": null, "labels": false, "domain": false, "grid": false, "zindex": 1,
    "values": [0.02,0.03,0.04,0.05,0.06,0.07,0.08,0.09,0.2,0.3,0.4,0.5,0.6,0.7,0.8,0.9,2,3,4,5,6,7,8,9,20,30,40,50,60,70,80,90,200,300,400,500,600,700,800,900,2000,3000,4000,5000,6000,7000,8000,9000,20000,30000,40000,50000,60000,70000,80000,90000],
    "tickColor": "black", "tickWidth": 2.5, "tickSize": 7}},
  "color": {"field": "s", "type": "nominal", "legend": null}
 }},
{"data": {"name": "labels"},
 "mark": {"type": "text", "fontSize": 46, "fontWeight": "bold", "align": "center", "baseline": "alphabetic"},
 "encoding": {
  "x": {"field": "e", "type": "quantitative", "scale": {"domain": [0, 23], "nice": false, "zero": false}, "axis": null},
  "y": {"field": "y", "type": "quantitative", "scale": {"type": "log", "domain": [0.01, 100000], "nice": false}, "axis": null},
  "text": {"field": "t"},
  "color": {"field": "s", "type": "nominal", "legend": null}
 }},
{"data": {"values": [{}]},
 "mark": {"type": "rule", "color": "black", "strokeWidth": 3},
 "encoding": {
  "x": {"datum": 0, "type": "quantitative", "scale": {"domain": [0, 23], "nice": false, "zero": false}, "axis": null},
  "x2": {"datum": 23},
  "y": {"datum": 100000, "type": "quantitative", "scale": {"type": "log", "domain": [0.01, 100000], "nice": false}, "axis": null}
 }},
{"data": {"values": [{}]},
 "mark": {"type": "rule", "color": "black", "strokeWidth": 3},
 "encoding": {
  "x": {"datum": 23, "type": "quantitative", "scale": {"domain": [0, 23], "nice": false, "zero": false}, "axis": null},
  "y": {"datum": 0.01, "type": "quantitative", "scale": {"type": "log", "domain": [0.01, 100000], "nice": false}, "axis": null},
  "y2": {"datum": 100000}
 }}
]
}
